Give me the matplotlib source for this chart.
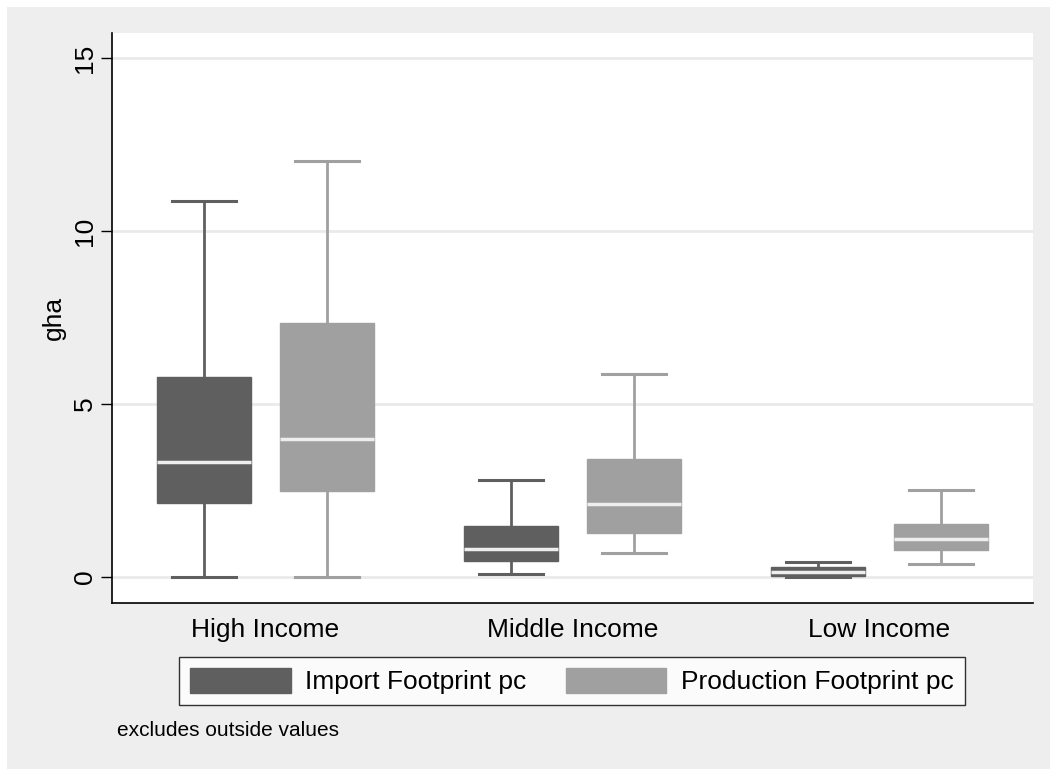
import matplotlib
matplotlib.use("Agg")
import matplotlib.pyplot as plt
from matplotlib.patches import Rectangle, Patch

plt.rcParams["font.family"] = ["Liberation Sans", "DejaVu Sans"]

groups = ["High Income", "Middle Income", "Low Income"]
series = ["Import Footprint pc", "Production Footprint pc"]

# five-number summaries per income group (whisker low, q1, median, q3, whisker high)
import_lo = [0.0, 0.08, 0.01]
import_q1 = [2.14, 0.45, 0.04]
import_med = [3.31, 0.80, 0.15]
import_q3 = [5.79, 1.48, 0.29]
import_hi = [10.87, 2.80, 0.43]

prod_lo = [0.0, 0.68, 0.38]
prod_q1 = [2.49, 1.28, 0.77]
prod_med = [3.98, 2.12, 1.09]
prod_q3 = [7.33, 3.42, 1.54]
prod_hi = [12.02, 5.86, 2.52]

yticks = [0, 5, 10, 15]

dark = "#5f5f5f"
light = "#a0a0a0"
bg = "#eeeeee"
fs = 19


def make_stats(lo, q1, med, q3, hi):
    return [dict(whislo=a, q1=b, med=c, q3=d, whishi=e, fliers=[])
            for a, b, c, d, e in zip(lo, q1, med, q3, hi)]


fig = plt.figure(figsize=(10.5, 7.69), dpi=100)
fig.patches.append(Rectangle((7 / 1050, 0), 1, 1 - 7 / 769, transform=fig.transFigure,
                             facecolor=bg, edgecolor="none", zorder=-10))

ax = fig.add_axes([112 / 1050, 1 - 603 / 769, (1033 - 112) / 1050, (603 - 33) / 769])
ax.set_facecolor("white")

centers = list(range(len(groups)))
offset = 0.2
width = 0.305

for stats, col, dx in [(make_stats(import_lo, import_q1, import_med, import_q3, import_hi), dark, -offset),
                       (make_stats(prod_lo, prod_q1, prod_med, prod_q3, prod_hi), light, offset)]:
    ax.bxp(stats, positions=[c + dx for c in centers], widths=width,
           patch_artist=True, showfliers=False, manage_ticks=False,
           boxprops=dict(facecolor=col, edgecolor=col, linewidth=1),
           whiskerprops=dict(color=col, linewidth=2),
           capprops=dict(color=col, linewidth=2.2),
           medianprops=dict(color="#eeeeee", linewidth=2.5),
           capwidths=width * 0.68)

ax.set_xlim(-0.5, 2.5)
ax.set_ylim(-0.754, 15.72)
ax.set_yticks(yticks)
ax.set_yticklabels([str(t) for t in yticks], rotation=90, va="center", fontsize=fs)
ax.yaxis.grid(True, color="#eaeaea", linewidth=2)
ax.set_axisbelow(True)
ax.tick_params(axis="y", length=8, width=1, pad=3)
ax.set_xticks(centers)
ax.set_xticklabels(groups, fontsize=fs)
ax.tick_params(axis="x", length=0, pad=11)
ax.set_ylabel("gha", fontsize=fs, labelpad=5)

for side in ["top", "right"]:
    ax.spines[side].set_visible(False)
for side in ["left", "bottom"]:
    ax.spines[side].set_color("black")
    ax.spines[side].set_linewidth(1.2)

handles = [Patch(facecolor=dark, edgecolor=dark), Patch(facecolor=light, edgecolor=light)]
leg = fig.legend(handles, series, loc="center", ncol=2, fontsize=fs,
                 bbox_to_anchor=(572 / 1050, 1 - 681 / 769),
                 frameon=True, fancybox=False, edgecolor="black", facecolor="white",
                 handlelength=3.8, handleheight=1.1, columnspacing=1.5,
                 handletextpad=0.55, borderpad=0.42, borderaxespad=0)
leg.get_frame().set_linewidth(1)

fig.text(117 / 1050, 1 - 730 / 769, "excludes outside values", fontsize=15, va="center")

fig.savefig("out.png", dpi=100, facecolor="white")
